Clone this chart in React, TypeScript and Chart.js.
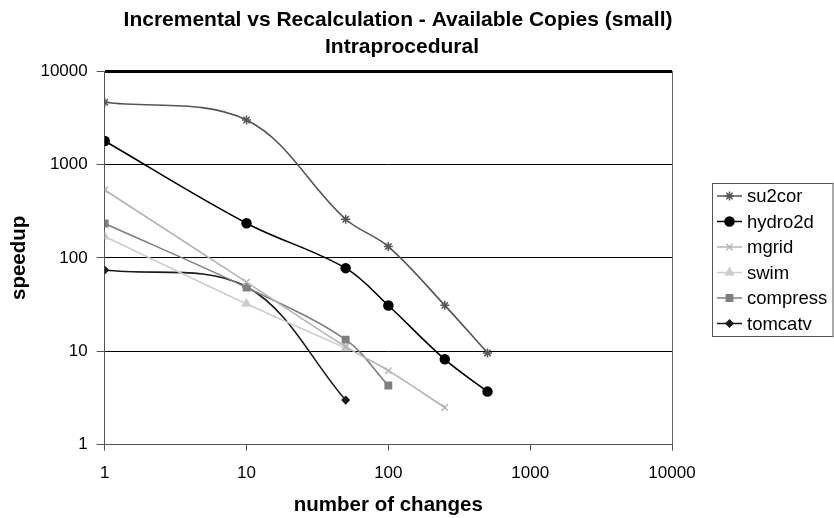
import { useEffect, useRef } from "react";
import { Chart, registerables } from "chart.js";
import { drawPoint } from "chart.js/helpers";

Chart.register(...registerables);

// Number of changes at which each benchmark was measured
const changes = [1, 10, 50, 100, 250, 500];

// Speedup of incremental update over full recalculation
const su2cor = [4630, 2990, 259, 132, 31, 9.6];
const hydro2d = [1780, 235, 77.6, 30.9, 8.2, 3.7];
const mgrid = [533, 55, 11.2, 6.2, 2.5];
const swim = [169, 32.2, 10.8];
const compress = [233, 48.2, 13.3, 4.3];
const tomcatv = [74, 49, 3.0];

const seriesNames = ["su2cor", "hydro2d", "mgrid", "swim", "compress", "tomcatv"];
const seriesValues = [su2cor, hydro2d, mgrid, swim, compress, tomcatv];

const xTickValues = [1, 10, 100, 1000, 10000];
const yTickValues = [1, 10, 100, 1000, 10000];

const titleLines = ["Incremental vs Recalculation - Available Copies (small)", "Intraprocedural"];
const xTitle = "number of changes";
const yTitle = "speedup";

const FONT = '"Liberation Sans", Arial, Helvetica, sans-serif';

type SeriesStyle = {
  color: string;
  pointStyle: string;
  radius: number;
  filled: boolean;
};

const styles: SeriesStyle[] = [
  { color: "#555555", pointStyle: "star", radius: 4.5, filled: false },
  { color: "#000000", pointStyle: "circle", radius: 4.5, filled: true },
  { color: "#b4b4b4", pointStyle: "crossRot", radius: 4.5, filled: false },
  { color: "#cdcdcd", pointStyle: "triangle", radius: 4.5, filled: true },
  { color: "#7f7f7f", pointStyle: "rect", radius: 4.5, filled: true },
  { color: "#1a1a1a", pointStyle: "rectRot", radius: 3.5, filled: true },
];

const decorations = {
  id: "decorations",
  afterDraw(chart: any) {
    const { ctx, chartArea } = chart;
    ctx.save();

    // right edge of the plot area
    ctx.strokeStyle = "#666666";
    ctx.lineWidth = 1;
    const rx = Math.round(chartArea.right) + 0.5;
    ctx.beginPath();
    ctx.moveTo(rx, chartArea.top);
    ctx.lineTo(rx, chartArea.bottom);
    ctx.stroke();

    // chart title
    ctx.fillStyle = "#000000";
    ctx.textAlign = "center";
    ctx.textBaseline = "middle";
    ctx.font = `bold 21px ${FONT}`;
    ctx.fillText(titleLines[0], 398, 20);
    ctx.fillText(titleLines[1], 402, 47);

    // axis titles
    ctx.font = `bold 20.5px ${FONT}`;
    ctx.fillText(xTitle, (chartArea.left + chartArea.right) / 2, 505);
    ctx.save();
    ctx.translate(19, (chartArea.top + chartArea.bottom) / 2);
    ctx.rotate(-Math.PI / 2);
    ctx.fillText(yTitle, 0, 0);
    ctx.restore();

    // legend
    const boxLeft = 712.5;
    const boxTop = 183.5;
    const rowH = 25.5;
    const boxBottom = boxTop + rowH * seriesNames.length;
    ctx.strokeStyle = "#555555";
    ctx.lineWidth = 1;
    ctx.strokeRect(boxLeft, boxTop, 833 - boxLeft, boxBottom - boxTop);

    ctx.textAlign = "left";
    ctx.font = `18.5px ${FONT}`;
    seriesNames.forEach((name, i) => {
      const st = styles[i];
      const y = boxTop + 12.5 + i * rowH;
      ctx.strokeStyle = st.color;
      ctx.lineWidth = 1.5;
      ctx.beginPath();
      ctx.moveTo(717, y);
      ctx.lineTo(742, y);
      ctx.stroke();
      ctx.fillStyle = st.filled ? st.color : "rgba(0,0,0,0)";
      ctx.strokeStyle = st.color;
      drawPoint(ctx, { pointStyle: st.pointStyle as any, radius: st.radius, rotation: 0, borderWidth: 1.5 }, 729.5, y);
      ctx.fillStyle = "#000000";
      ctx.fillText(name, 747, y + 1);
    });

    ctx.restore();
  },
};

export default function App() {
  const canvasRef = useRef<HTMLCanvasElement | null>(null);

  useEffect(() => {
    const canvas = canvasRef.current;
    if (!canvas) return;

    const datasets = seriesNames.map((name, i) => {
      const st = styles[i];
      return {
        label: name,
        data: seriesValues[i].map((v, j) => ({ x: changes[j], y: v })),
        borderColor: st.color,
        backgroundColor: st.filled ? st.color : "rgba(0,0,0,0)",
        pointBorderColor: st.color,
        pointBackgroundColor: st.filled ? st.color : "rgba(0,0,0,0)",
        pointStyle: st.pointStyle,
        pointRadius: st.radius,
        pointBorderWidth: 1.5,
        borderWidth: 1.6,
        tension: 0.35,
        fill: false,
      };
    });

    const chart = new Chart(canvas, {
      type: "line",
      data: { datasets: datasets as any },
      options: {
        animation: false,
        responsive: false,
        layout: { padding: { top: 71, right: 162, left: 0, bottom: 0 } },
        plugins: {
          legend: { display: false },
          title: { display: false },
          tooltip: { enabled: false },
        },
        scales: {
          x: {
            type: "logarithmic",
            min: 1,
            max: 10000,
            afterBuildTicks: (s: any) => {
              s.ticks = xTickValues.map((v) => ({ value: v }));
            },
            afterFit: (s: any) => {
              s.height = 73.3;
            },
            ticks: {
              font: { family: FONT, size: 17 },
              color: "#000000",
              padding: 12,
              maxRotation: 0,
              autoSkip: false,
              callback: (v: any) => String(v),
            },
            grid: {
              drawOnChartArea: false,
              drawTicks: true,
              tickLength: 6,
              color: "#555555",
              tickColor: "#555555",
            },
            border: { display: true, color: "#555555", width: 1 },
          },
          y: {
            type: "logarithmic",
            min: 1,
            max: 10000,
            afterBuildTicks: (s: any) => {
              s.ticks = yTickValues.map((v) => ({ value: v }));
            },
            afterFit: (s: any) => {
              s.width = 104.7;
            },
            ticks: {
              font: { family: FONT, size: 17 },
              color: "#000000",
              padding: 9,
              autoSkip: false,
              callback: (v: any) => String(v),
            },
            grid: {
              color: (c: any) => (c.tick && c.tick.value === 1 ? "#555555" : "#000000"),
              lineWidth: (c: any) => (c.tick && c.tick.value === 10000 ? 3 : 1),
              tickLength: 8,
              tickColor: "#555555",
              tickWidth: 1,
            },
            border: { display: true, color: "#555555", width: 1 },
          },
        },
      },
      plugins: [decorations],
    });

    return () => chart.destroy();
  }, []);

  return (
    <div style={{ position: "absolute", left: 0, top: 0, width: 834, height: 518, background: "#ffffff" }}>
      <canvas ref={canvasRef} width={834} height={518} />
    </div>
  );
}
